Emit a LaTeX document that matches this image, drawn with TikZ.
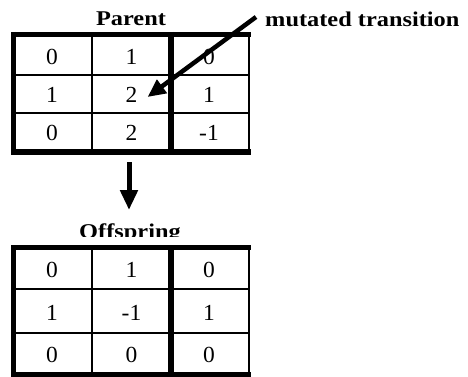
\documentclass[tikz,border=0pt]{standalone}
\usepackage{fontspec}
\setmainfont{Liberation Serif}
\usetikzlibrary{arrows.meta}

\begin{document}
\begin{tikzpicture}[x=1pt,y=-1pt,
  heavy/.style={line width=5.5pt},
  light/.style={line width=2pt},
  cellnum/.style={font=\fontsize{23}{23}\selectfont, xscale=1.02, inner sep=0pt},
  caption/.style={font=\fontsize{21}{21}\selectfont\bfseries, xscale=1.16, inner sep=0pt, anchor=base},
  pointer/.style={line width=4.5pt, -{Triangle[length=18pt,width=16pt]}},
  flow/.style={line width=5pt, -{Triangle[length=20pt,width=17pt]}}]
\useasboundingbox (0,0) rectangle (468,377);

% titles
\node[caption] (parentlabel) at (131,26) {Parent};
\node[caption, anchor=base west] (mutlabel) at (265,26.5) {mutated transition};
\node[caption] (offlabel) at (130,238.5) {Offspring};
% the offspring grid sits over the foot of its title
\fill[white] (0,237) rectangle (300,246);

% parent grid
\draw[light] (13.5,75) -- (249,75) (13.5,113) -- (249,113)
             (92,34.5) -- (92,152) (249,34.5) -- (249,152);
\draw[heavy] (11,34.5) -- (250.5,34.5) (11,152) -- (250.5,152)
             (13.5,32) -- (13.5,155) (171,32) -- (171,155);

% offspring grid
\draw[light] (13.5,289) -- (249,289) (13.5,333) -- (249,333)
             (92,247.5) -- (92,374.5) (249,247.5) -- (249,374.5);
\draw[heavy] (11,247.5) -- (250.5,247.5) (11,374.5) -- (250.5,374.5)
             (13.5,245) -- (13.5,377) (171,245) -- (171,377);

% cell entries
\foreach \r/\y/\a/\b/\c in {1/57/0/1/0, 2/95/1/2/1, 3/133/0/2/-1} {
  \node[cellnum] (p-\r-1) at (52,\y) {\a};
  \node[cellnum] (p-\r-2) at (131.5,\y) {\b};
  \node[cellnum] (p-\r-3) at (209,\y) {\c};
}
\foreach \r/\y/\a/\b/\c in {1/269.5/0/1/0, 2/313/1/-1/1, 3/355/0/0/0} {
  \node[cellnum] (o-\r-1) at (52,\y) {\a};
  \node[cellnum] (o-\r-2) at (131.5,\y) {\b};
  \node[cellnum] (o-\r-3) at (209,\y) {\c};
}

% arrows
\coordinate (mstart) at (256,17);
\coordinate (mtip) at ([shift={(10,2)}]p-2-2.east);
\draw[pointer] (mstart) -- (mtip);

\coordinate (dstart) at (129,162);
\coordinate (dend) at (129,210);
\draw[flow] (dstart) -- (dend);
\end{tikzpicture}
\end{document}
